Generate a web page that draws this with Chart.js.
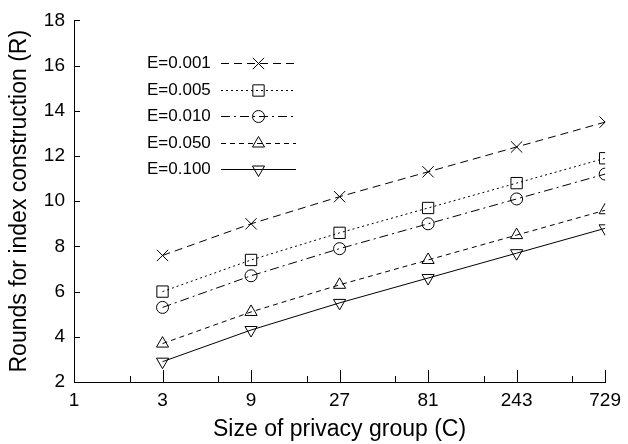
<!DOCTYPE html>
<html>
<head>
<meta charset="utf-8">
<script src="https://cdn.jsdelivr.net/npm/chart.js@4.4.0/dist/chart.umd.min.js"></script>
<style>
  html, body { margin: 0; padding: 0; background: #fff; }
  #wrap { width: 628px; height: 444px; }
</style>
</head>
<body>
<div id="wrap"><canvas id="chart" width="628" height="444"></canvas></div>
<script>
// group sizes C (log base 3 axis)
const groupSizes = [3, 9, 27, 81, 243, 729];
const xTickValues = [1, 3, 9, 27, 81, 243, 729];
const xMinorTicks = [2, 6, 18, 54, 162, 486];

const labels = ['E=0.001', 'E=0.005', 'E=0.010', 'E=0.050', 'E=0.100'];
const rounds001 = [7.6, 9.0, 10.2, 11.3, 12.4, 13.5];
const rounds005 = [6.0, 7.4, 8.6, 9.7, 10.8, 11.9];
const rounds010 = [5.3, 6.7, 7.9, 9.0, 10.1, 11.2];
const rounds050 = [3.7, 5.1, 6.3, 7.4, 8.5, 9.6];
const rounds100 = [2.9, 4.3, 5.5, 6.6, 7.7, 8.8];

const FONT = "'Liberation Sans', Arial, Helvetica, sans-serif";

const toPoints = (vals) => vals.map((v, i) => ({ x: groupSizes[i], y: v }));

function series(label, vals, style, radius, dash, rotation) {
  return {
    label: label,
    data: toPoints(vals),
    borderColor: '#000',
    backgroundColor: 'rgba(0,0,0,0)',
    borderWidth: 1,
    borderDash: dash,
    pointStyle: style,
    pointRadius: radius,
    pointRotation: rotation || 0,
    pointBorderWidth: 1,
    pointBorderColor: '#000',
    pointBackgroundColor: 'rgba(0,0,0,0)',
    tension: 0,
    fill: false
  };
}

const datasets = [
  series(labels[0], rounds001, 'crossRot', 8, [8, 5]),
  series(labels[1], rounds005, 'rect', 8, [2, 3]),
  series(labels[2], rounds010, 'circle', 6, [9, 4, 2, 4]),
  series(labels[3], rounds050, 'triangle', 7, [5, 4]),
  series(labels[4], rounds100, 'triangle', 7, [], 180)
];

// inward tick marks on both axes
const tickMarks = {
  id: 'tickMarks',
  afterDraw(chart) {
    const ctx = chart.ctx;
    const x = chart.scales.x, y = chart.scales.y;
    const area = chart.chartArea;
    ctx.save();
    ctx.strokeStyle = '#000';
    ctx.lineWidth = 1;
    ctx.beginPath();
    xTickValues.forEach(v => {
      const px = Math.round(x.getPixelForValue(v)) + 0.5;
      ctx.moveTo(px, area.bottom);
      ctx.lineTo(px, area.bottom - 12);
    });
    xMinorTicks.forEach(v => {
      const px = Math.round(x.getPixelForValue(v)) + 0.5;
      ctx.moveTo(px, area.bottom);
      ctx.lineTo(px, area.bottom - 6);
    });
    y.ticks.forEach(t => {
      const py = Math.round(y.getPixelForValue(t.value)) + 0.5;
      ctx.moveTo(area.left, py);
      ctx.lineTo(area.left + 6, py);
    });
    ctx.stroke();
    ctx.restore();
  }
};

// legend inside the plot: label text, then a line sample with its marker
const innerLegend = {
  id: 'innerLegend',
  afterDraw(chart) {
    const ctx = chart.ctx;
    ctx.save();
    ctx.font = '17px ' + FONT;
    ctx.textBaseline = 'middle';
    ctx.textAlign = 'left';
    chart.data.datasets.forEach((ds, i) => {
      const yy = Math.round(63 + i * 26.6) + 0.5;
      ctx.fillStyle = '#000';
      ctx.fillText(ds.label, 147, yy);
      ctx.beginPath();
      ctx.setLineDash(ds.borderDash);
      ctx.strokeStyle = '#000';
      ctx.lineWidth = 1;
      ctx.moveTo(221, yy);
      ctx.lineTo(296, yy);
      ctx.stroke();
      ctx.setLineDash([]);
      ctx.fillStyle = 'rgba(0,0,0,0)';
      Chart.helpers.drawPoint(ctx, {
        pointStyle: ds.pointStyle,
        radius: ds.pointRadius,
        rotation: ds.pointRotation,
        borderWidth: 1
      }, 258.5, yy);
    });
    ctx.restore();
  }
};

new Chart(document.getElementById('chart').getContext('2d'), {
  type: 'line',
  data: { datasets: datasets },
  plugins: [tickMarks, innerLegend],
  options: {
    responsive: false,
    animation: false,
    layout: { padding: { top: 20, right: 21, bottom: 0, left: 0 } },
    plugins: {
      legend: { display: false },
      tooltip: { enabled: false }
    },
    scales: {
      x: {
        type: 'logarithmic',
        min: 1,
        max: 729,
        afterBuildTicks: (scale) => {
          scale.ticks = xTickValues.map(v => ({ value: v }));
        },
        afterFit: (scale) => { scale.height = 62; },
        grid: { display: false, drawTicks: false },
        border: { display: true, color: '#000', width: 1 },
        ticks: {
          autoSkip: false,
          maxRotation: 0,
          padding: 7,
          color: '#000',
          font: { family: FONT, size: 19 },
          callback: (v) => String(v)
        },
        title: {
          display: true,
          text: 'Size of privacy group (C)',
          color: '#000',
          font: { family: FONT, size: 23 },
          padding: { top: 0, bottom: 1 }
        }
      },
      y: {
        min: 2,
        max: 18,
        afterFit: (scale) => { scale.width = 74; },
        grid: { display: false, drawTicks: false },
        border: { display: true, color: '#000', width: 1 },
        ticks: {
          stepSize: 2,
          padding: 9,
          color: '#000',
          font: { family: FONT, size: 19 }
        },
        title: {
          display: true,
          text: 'Rounds for index construction (R)',
          color: '#000',
          font: { family: FONT, size: 23 },
          padding: { top: 6, bottom: 0 }
        }
      }
    }
  }
});
</script>
</body>
</html>
